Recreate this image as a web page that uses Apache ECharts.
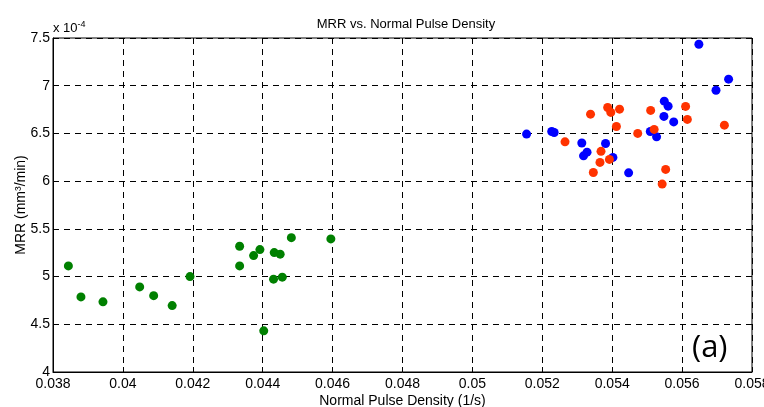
<!DOCTYPE html>
<html>
<head>
<meta charset="utf-8">
<script src="https://cdn.jsdelivr.net/npm/echarts@6/dist/echarts.min.js"></script>
<style>html,body{margin:0;padding:0;background:#fff}#c{width:764px;height:407px}</style>
</head>
<body>
<div id="c"></div>
<script>
// MRR values in units of 1e-4 mm^3/min
const greenX = [0.03844,0.03880,0.03943,0.04048,0.04088,0.04141,0.04192,0.04334,0.04334,0.04374,0.04392,0.04433,0.04450,0.04431,0.04456,0.04403,0.04482,0.04595];
const greenY = [5.112,4.787,4.735,4.892,4.800,4.696,5.000,5.318,5.112,5.220,5.283,5.251,5.235,4.973,4.994,4.431,5.408,5.395];
const blueX = [0.05648,0.05733,0.05697,0.05549,0.05560,0.05548,0.05576,0.05509,0.05527,0.05155,0.05227,0.05234,0.05313,0.05381,0.05328,0.05318,0.05402,0.05447];
const blueY = [7.435,7.069,6.953,6.838,6.786,6.678,6.621,6.520,6.464,6.493,6.520,6.510,6.400,6.395,6.304,6.265,6.249,6.087];
const redX = [0.05338,0.05387,0.05396,0.05421,0.05412,0.05265,0.05368,0.05365,0.05392,0.05346,0.05473,0.05510,0.05520,0.05610,0.05615,0.05721,0.05553,0.05543];
const redY = [6.702,6.772,6.720,6.754,6.573,6.412,6.312,6.196,6.228,6.090,6.500,6.741,6.542,6.783,6.647,6.587,6.123,5.969];
const xTicks = {min:0.038, max:0.058, step:0.002};
const yTicks = {min:4, max:7.5, step:0.5};

const pairs = (xs, ys) => xs.map((x, i) => [x, ys[i]]);
const font = 'Liberation Sans, Arial, sans-serif';
const chart = echarts.init(document.getElementById('c'));
chart.setOption({
  animation:false,
  title:{text:'MRR vs. Normal Pulse Density', left:401, top:13, textAlign:'center',
    textStyle:{fontFamily:font, fontSize:13, fontWeight:'normal', color:'#000'}},
  grid:{show:true, borderColor:'#000', borderWidth:1, left:53, right:12, top:38, bottom:35,
    outerBoundsMode:'none', containLabel:false},
  xAxis:{type:'value', min:xTicks.min, max:xTicks.max, interval:xTicks.step,
    name:'Normal Pulse Density (1/s)', nameLocation:'middle', nameGap:22, nameMoveOverlap:false,
    nameTextStyle:{fontFamily:font, fontSize:14, color:'#000'},
    axisLine:{lineStyle:{color:'#000'}},
    axisTick:{inside:true, length:5, lineStyle:{color:'#000'}},
    axisLabel:{fontFamily:font, fontSize:14, color:'#000', margin:5,
      formatter:v => String(+v.toFixed(3))},
    splitLine:{show:true, lineStyle:{color:'#000', type:[6,5], width:1}}},
  yAxis:{type:'value', min:yTicks.min, max:yTicks.max, interval:yTicks.step,
    name:'MRR (mm³/min)', nameLocation:'middle', nameGap:25, nameRotate:90, nameMoveOverlap:false,
    nameTextStyle:{fontFamily:font, fontSize:14, color:'#000'},
    axisLine:{lineStyle:{color:'#000'}},
    axisTick:{inside:true, length:5, lineStyle:{color:'#000'}},
    axisLabel:{fontFamily:font, fontSize:14, color:'#000', margin:3,
      formatter:v => String(+v.toFixed(1))},
    splitLine:{show:true, lineStyle:{color:'#000', type:[6,5], width:1}}},
  graphic:[
    {type:'text', left:53, top:20, style:{rich:{b:{fontFamily:font, fontSize:13, fill:'#000'}, s:{fontFamily:font, fontSize:9, fill:'#000', verticalAlign:'top', padding:[0,0,8,0]}}, text:'{b|x 10}{s|-4}'}},
    {type:'text', left:692, top:333, style:{text:'(a)', fontFamily:'Open Sans, Lato, sans-serif', fontSize:31, fill:'#000'}}
  ],
  series:[
    {type:'scatter', data:pairs(greenX, greenY), symbolSize:9, itemStyle:{color:'#008000', opacity:1}},
    {type:'scatter', data:pairs(blueX, blueY), symbolSize:9, itemStyle:{color:'#0000ff', opacity:1}},
    {type:'scatter', data:pairs(redX, redY), symbolSize:9, itemStyle:{color:'#ff3300', opacity:1}}
  ]
});
</script>
</body>
</html>
